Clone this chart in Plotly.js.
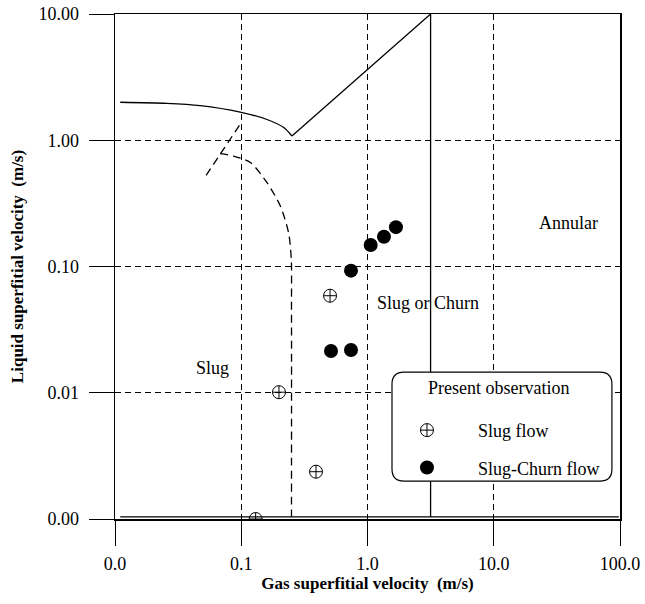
<!DOCTYPE html>
<html>
<head>
<meta charset="utf-8">
<script src="https://cdn.plot.ly/plotly-3.0.1.min.js"></script>
<style>html,body{margin:0;padding:0;background:#fff;}#chart{width:645px;height:604px;}</style>
</head>
<body>
<div id="chart"></div>
<script>
// Observations
const slugX = [0.199, 0.505, 0.391, 0.13];
const slugY = [0.0101, 0.0587, 0.00237, 0.001];
const churnX = [0.74, 0.514, 0.74, 1.06, 1.35, 1.68];
const churnY = [0.0927, 0.0214, 0.0218, 0.148, 0.172, 0.205];

// Regime boundaries
const bubbleSlugX = [0.011, 0.0257, 0.0473, 0.098, 0.16, 0.217, 0.252];
const bubbleSlugY = [2.0, 1.96, 1.88, 1.67, 1.46, 1.26, 1.08];
const annularX = [0.252, 3.16, 3.16];
const annularY = [1.08, 10, 0.00104];
const bottomX = [0.011, 98];
const bottomY = [0.00104, 0.00104];
const dashShortX = [0.0527, 0.101];
const dashShortY = [0.527, 1.40];
const dashCurveX = [0.068, 0.0869, 0.118, 0.16, 0.204, 0.237, 0.249, 0.25, 0.25];
const dashCurveY = [0.783, 0.75, 0.666, 0.461, 0.301, 0.185, 0.114, 0.05, 0.00104];

// Axis ticks
const xTickVals = [0.01, 0.1, 1, 10, 100];
const xTickText = ['0.0', '0.1', '1.0', '10.0', '100.0'];
const yTickVals = [0.001, 0.01, 0.1, 1, 10];
const yTickText = ['0.00', '0.01', '0.10', '1.00', '10.00'];

// Region labels
const regionText = ['Annular', 'Slug or Churn', 'Slug'];
const regionX = [39, 3.01, 0.0597];
const regionY = [0.223, 0.0514, 0.0157];
const legendTitle = 'Present observation';

const FONT = 'Liberation Serif, Times New Roman, serif';
const lineTrace = (x, y, dash, shape) => ({
  x: x, y: y, type: 'scatter', mode: 'lines', showlegend: false, hoverinfo: 'skip',
  line: {color: '#000', width: 1.3, dash: dash, shape: shape || 'linear', smoothing: 0.8}
});

const traces = [
  lineTrace(bubbleSlugX, bubbleSlugY, 'solid', 'spline'),
  lineTrace(annularX, annularY, 'solid'),
  lineTrace(bottomX, bottomY, 'solid'),
  lineTrace(dashShortX, dashShortY, '8px,5px'),
  lineTrace(dashCurveX, dashCurveY, '8px,5px', 'spline'),
  {x: slugX, y: slugY, type: 'scatter', mode: 'markers', name: 'Slug flow',
   legendgroup: 'a',
   marker: {symbol: 'circle-cross-open', size: 13, color: '#000', line: {width: 1, color: '#000'}}},
  {x: churnX, y: churnY, type: 'scatter', mode: 'markers', name: 'Slug-Churn flow',
   legendgroup: 'b',
   marker: {symbol: 'circle', size: 14, color: '#000'}}
];

// legend rounded box (paper coords)
const bx0 = 0.5485, bx1 = 0.984, by0 = 0.075, by1 = 0.291, r = 0.024;
const boxPath = `M ${bx0 + r},${by1} L ${bx1 - r},${by1} Q ${bx1},${by1} ${bx1},${by1 - r} ` +
  `L ${bx1},${by0 + r} Q ${bx1},${by0} ${bx1 - r},${by0} L ${bx0 + r},${by0} ` +
  `Q ${bx0},${by0} ${bx0},${by0 + r} L ${bx0},${by1 - r} Q ${bx0},${by1} ${bx0 + r},${by1} Z`;

const axisCommon = {
  type: 'log', showline: true, linecolor: '#000', linewidth: 1.5, mirror: true,
  ticks: 'outside', ticklen: 25, tickwidth: 1, tickcolor: '#000',
  showgrid: true, gridcolor: '#000', gridwidth: 1, griddash: '6px,4px',
  zeroline: false, tickfont: {family: FONT, size: 18, color: '#000'}
};

const annotations = regionText.map((t, i) => ({
  text: t, x: Math.log10(regionX[i]), y: Math.log10(regionY[i]), xref: 'x', yref: 'y',
  showarrow: false, font: {family: FONT, size: 18, color: '#000'}, xanchor: 'center', yanchor: 'middle'
}));
annotations.push({
  text: legendTitle, xref: 'paper', yref: 'paper', x: 0.760, y: 0.259,
  showarrow: false, font: {family: FONT, size: 18, color: '#000'}, xanchor: 'center', yanchor: 'middle'
});

const layout = {
  width: 645, height: 604,
  margin: {l: 115, r: 25, t: 14, b: 85},
  paper_bgcolor: '#fff', plot_bgcolor: '#fff',
  font: {family: FONT, size: 18, color: '#000'},
  xaxis: Object.assign({}, axisCommon, {
    range: [-2, 2], tickmode: 'array', tickvals: xTickVals, ticktext: xTickText,
    ticklabelstandoff: 3,
    title: {text: '<b>Gas superfitial velocity  (m/s)</b>', font: {family: FONT, size: 17}, standoff: 3}
  }),
  yaxis: Object.assign({}, axisCommon, {
    range: [-3, 1], tickmode: 'array', tickvals: yTickVals, ticktext: yTickText,
    ticklabelstandoff: 6,
    title: {text: '<b>Liquid superfitial velocity  (m/s)</b>', font: {family: FONT, size: 17}, standoff: 10}
  }),
  shapes: [{type: 'path', xref: 'paper', yref: 'paper', path: boxPath,
            fillcolor: '#fff', line: {color: '#000', width: 1.2}, layer: 'above'}],
  annotations: annotations,
  legend: {
    x: 0.5168, y: 0.212, xanchor: 'left', yanchor: 'top', xref: 'paper', yref: 'paper',
    bgcolor: 'rgba(0,0,0,0)', borderwidth: 0,
    traceorder: 'grouped', tracegroupgap: 11, itemwidth: 92,
    font: {family: FONT, size: 18, color: '#000'}
  },
  showlegend: true
};

Plotly.newPlot('chart', traces, layout, {displayModeBar: false, staticPlot: true});
</script>
</body>
</html>
